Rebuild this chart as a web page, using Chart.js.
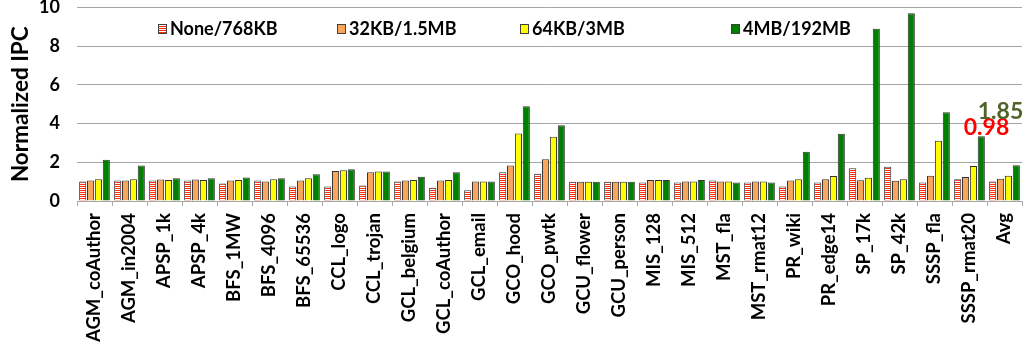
<!DOCTYPE html>
<html>
<head>
<meta charset="utf-8">
<script src="https://cdn.jsdelivr.net/npm/chart.js@4.4.1/dist/chart.umd.min.js"></script>
<style>
  html, body { margin: 0; padding: 0; background: #fff; }
  #wrap { width: 1026px; height: 353px; position: relative; }
</style>
</head>
<body>
<div id="wrap"><canvas id="ipcChart"></canvas></div>
<script>
"use strict";

var categories = ["AGM_coAuthor", "AGM_in2004", "APSP_1k", "APSP_4k", "BFS_1MW", "BFS_4096",
    "BFS_65536", "CCL_logo", "CCL_trojan", "GCL_belgium", "GCL_coAuthor", "GCL_email",
    "GCO_hood", "GCO_pwtk", "GCU_flower", "GCU_person", "MIS_128", "MIS_512", "MST_fla",
    "MST_rmat12", "PR_wiki", "PR_edge14", "SP_17k", "SP_42k", "SSSP_fla", "SSSP_rmat20", "Avg"];

var seriesNames = ["None/768KB", "32KB/1.5MB", "64KB/3MB", "4MB/192MB"];

var none768 = [1.01, 1.06, 1.06, 1.06, 0.90, 1.06, 0.75, 0.75, 0.80, 1.01, 0.69, 0.55, 1.48, 1.41,
    1.00, 1.00, 0.96, 0.95, 1.06, 0.95, 0.75, 0.96, 1.69, 1.77, 0.95, 1.12, 1.01];
var kb32 = [1.06, 1.06, 1.11, 1.11, 1.06, 1.01, 1.06, 1.55, 1.48, 1.06, 1.06, 1.01, 1.83, 2.16,
    1.00, 1.00, 1.09, 1.01, 1.01, 1.01, 1.06, 1.13, 1.07, 1.05, 1.31, 1.24, 1.15];
var kb64 = [1.13, 1.13, 1.09, 1.09, 1.09, 1.13, 1.17, 1.59, 1.52, 1.09, 1.09, 1.01, 3.49, 3.32,
    1.00, 1.00, 1.09, 1.01, 1.01, 1.01, 1.13, 1.29, 1.20, 1.12, 3.11, 1.81, 1.31];
var mb4 = [2.13, 1.83, 1.17, 1.17, 1.22, 1.17, 1.38, 1.64, 1.52, 1.25, 1.48, 1.01, 4.90, 3.92,
    1.00, 1.00, 1.09, 1.08, 0.96, 0.96, 2.55, 3.48, 8.90, 9.70, 4.59, 3.34, 1.85];

var yTicks = [0, 2, 4, 6, 8, 10];

// callouts above the last two groups
var notes = [
    { text: "0.98", color: "#ff0000", cat: 25, dx: 17, y: 3.77 },
    { text: "1.85", color: "#4f6228", cat: 26, dx: -4, y: 4.62 }
];

var FONT = "Lato";

function stripePattern() {
    var c = document.createElement("canvas");
    c.width = 4;
    c.height = 2;
    var g = c.getContext("2d");
    g.fillStyle = "#ffffff";
    g.fillRect(0, 0, 4, 2);
    g.fillStyle = "#ff2a00";
    g.fillRect(0, 0, 4, 1);
    return g.createPattern(c, "repeat");
}

var ctx = document.getElementById("ipcChart").getContext("2d");
var stripes = stripePattern();
var fills = [stripes, "#f9a65a", "#ffff00", "#008000"];
var values = [none768, kb32, kb64, mb4];

var legendX = [158, 337, 520, 731];

var overlay = {
    id: "overlay",
    afterDraw: function (chart) {
        var c = chart.ctx;
        c.save();
        // legend
        c.font = "bold 18px " + FONT;
        c.textBaseline = "middle";
        c.textAlign = "left";
        seriesNames.forEach(function (name, i) {
            var x = legendX[i];
            c.fillStyle = fills[i];
            c.fillRect(x, 24, 9, 10);
            c.strokeStyle = "#404040";
            c.lineWidth = 1;
            c.strokeRect(x + 0.5, 24.5, 8, 9);
            c.fillStyle = "#000";
            c.fillText(name, x + 12, 29.5);
        });
        // callouts
        var xs = chart.scales.x, ys = chart.scales.y;
        c.font = "bold 23px " + FONT;
        c.textAlign = "center";
        notes.forEach(function (n) {
            c.fillStyle = n.color;
            c.fillText(n.text, xs.getPixelForValue(n.cat) + n.dx, ys.getPixelForValue(n.y));
        });
        c.restore();
    }
};

var chart = new Chart(ctx, {
    type: "bar",
    data: {
        labels: categories,
        datasets: seriesNames.map(function (name, i) {
            return {
                label: name,
                data: values[i],
                backgroundColor: fills[i],
                borderColor: "#333333",
                borderWidth: 1,
                borderSkipped: "bottom",
                categoryPercentage: 0.9,
                barPercentage: 0.9
            };
        })
    },
    options: {
        responsive: true,
        maintainAspectRatio: false,
        animation: false,
        layout: { padding: { top: 0, right: 4, bottom: 0, left: 0 } },
        plugins: {
            legend: { display: false },
            tooltip: { enabled: false }
        },
        scales: {
            x: {
                grid: { display: true, drawOnChartArea: false, drawTicks: true, tickLength: 5, color: "#a6a6a6", offset: true },
                border: { display: true, color: "#a6a6a6" },
                ticks: {
                    autoSkip: false,
                    maxRotation: 90,
                    minRotation: 90,
                    padding: 7,
                    color: "#000",
                    font: { family: FONT, weight: "bold", size: 18.5 }
                },
                afterFit: function (s) {
                    s.height = 152;
                    s.paddingLeft = 0;
                    s.paddingRight = 0;
                }
            },
            y: {
                min: 0,
                max: 10,
                afterBuildTicks: function (s) {
                    s.ticks = yTicks.map(function (v) { return { value: v }; });
                },
                grid: { color: "#a6a6a6", drawTicks: false },
                border: { display: false },
                ticks: {
                    padding: 17,
                    color: "#000",
                    font: { family: FONT, weight: "bold", size: 18 }
                },
                title: {
                    display: true,
                    text: "Normalized IPC",
                    color: "#000",
                    padding: { top: 7, bottom: 0 },
                    font: { family: FONT, weight: "bold", size: 22.5 }
                },
                afterFit: function (s) {
                    s.width = 77;
                    s.paddingTop = 7.5;
                    s.paddingBottom = 0;
                }
            }
        }
    },
    plugins: [overlay]
});
</script>
</body>
</html>
